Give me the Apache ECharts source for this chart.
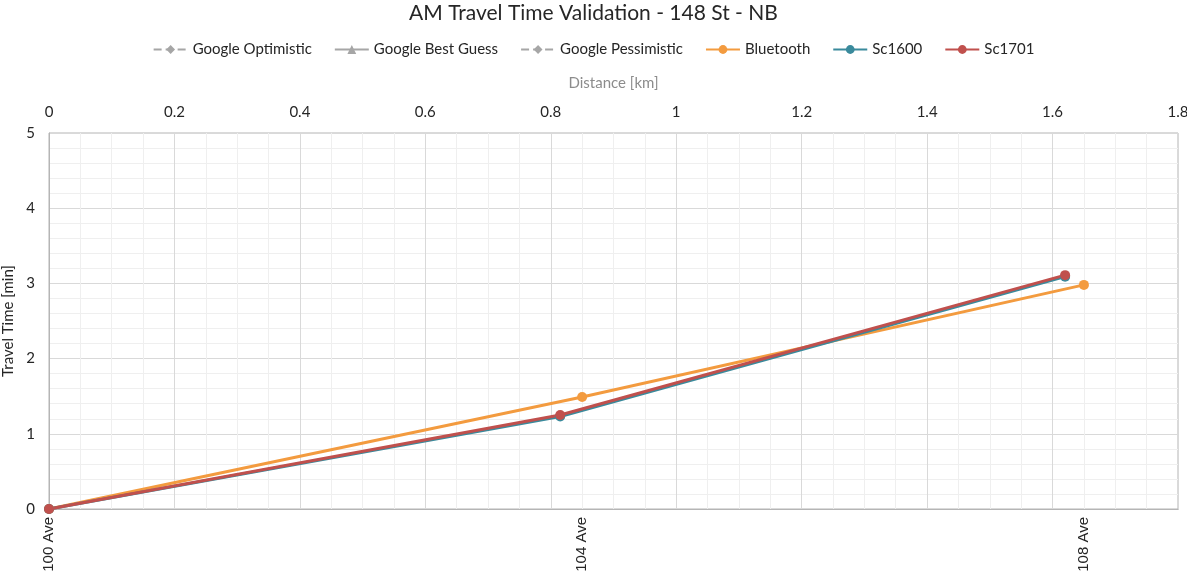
<!DOCTYPE html>
<html>
<head>
<meta charset="utf-8">
<script src="https://cdn.jsdelivr.net/npm/echarts@6/dist/echarts.min.js"></script>
<style>
html,body{margin:0;padding:0;background:#fff;}
#chart{width:1187px;height:580px;}
</style>
</head>
<body>
<div id="chart"></div>
<script>
// ---- data ----
var streetNames = ['100 Ave', '104 Ave', '108 Ave'];
var streetDist = [0, 0.85, 1.65];

var bluetoothDist = [0, 0.85, 1.65];
var bluetoothTime = [0, 1.49, 2.98];

var scDist = [0, 0.815, 1.62];
var sc1600Time = [0, 1.23, 3.09];
var sc1701Time = [0, 1.25, 3.11];

var googleOptimistic = [];
var googleBestGuess = [];
var googlePessimistic = [];

var xTicks = [0, 0.2, 0.4, 0.6, 0.8, 1, 1.2, 1.4, 1.6, 1.8];
var yTicks = [0, 1, 2, 3, 4, 5];

function pairs(xs, ys) {
  return ys.map(function (y, i) { return [xs[i], y]; });
}

var font = 'Lato, "Open Sans", sans-serif';
var chart = echarts.init(document.getElementById('chart'));
chart.setOption({
  animation: false,
  backgroundColor: '#fff',
  title: {
    text: 'AM Travel Time Validation - 148 St - NB',
    left: 'center', top: -2,
    textStyle: { fontFamily: font, fontSize: 21, fontWeight: 'normal', color: '#262626' }
  },
  legend: {
    top: 37, left: 'center',
    itemWidth: 34, itemHeight: 11, itemGap: 22,
    textStyle: { fontFamily: font, fontSize: 15, color: '#262626' },
    data: ['Google Optimistic', 'Google Best Guess', 'Google Pessimistic', 'Bluetooth', 'Sc1600', 'Sc1701']
  },
  grid: {
    left: 49, right: 9, top: 133, bottom: 71,
    outerBoundsMode: 'none',
    containLabel: false,
    show: true, borderColor: '#b5b5b5', borderWidth: 1
  },
  xAxis: [
    {
      type: 'value', position: 'top', min: xTicks[0], max: xTicks[xTicks.length - 1], interval: 0.2,
      name: 'Distance [km]', nameLocation: 'middle', nameGap: 42,
      nameTextStyle: { fontFamily: font, fontSize: 15, color: '#8c8c8c' },
      axisLine: { show: true, lineStyle: { color: '#b5b5b5' } },
      axisTick: { show: false },
      axisLabel: { fontFamily: font, fontSize: 15, color: '#262626', margin: 13 },
      splitLine: { show: true, lineStyle: { color: '#d9d9d9' } },
      minorTick: { show: false, splitNumber: 4 },
      minorSplitLine: { show: true, lineStyle: { color: '#efefef' } }
    },
    {
      type: 'value', position: 'bottom', min: xTicks[0], max: xTicks[xTicks.length - 1],
      axisLine: { show: true, lineStyle: { color: '#b5b5b5' } },
      axisTick: { show: false },
      splitLine: { show: false },
      axisLabel: {
        customValues: streetDist,
        rotate: 90,
        fontFamily: '"Liberation Sans", Arial, sans-serif', fontSize: 15, color: '#262626',
        margin: 8,
        formatter: function (v) {
          for (var i = 0; i < streetDist.length; i++) {
            if (Math.abs(streetDist[i] - v) < 1e-6) return streetNames[i];
          }
          return '';
        }
      }
    }
  ],
  yAxis: {
    type: 'value', min: yTicks[0], max: yTicks[yTicks.length - 1], interval: 1,
    name: 'Travel Time [min]', nameLocation: 'middle', nameGap: 26,
    nameTextStyle: { fontFamily: font, fontSize: 15, color: '#262626' },
    axisLine: { show: true, lineStyle: { color: '#b5b5b5' } },
    axisTick: { show: false },
    axisLabel: { fontFamily: font, fontSize: 15, color: '#262626', margin: 14 },
    splitLine: { show: true, lineStyle: { color: '#d9d9d9' } },
    minorTick: { show: false, splitNumber: 5 },
    minorSplitLine: { show: true, lineStyle: { color: '#efefef' } }
  },
  series: [
    { name: 'Google Optimistic', type: 'line', xAxisIndex: 0, data: pairs([], googleOptimistic),
      color: '#a6a6a6', symbol: 'diamond', symbolSize: 9, lineStyle: { type: 'dashed', width: 1.5 } },
    { name: 'Google Best Guess', type: 'line', xAxisIndex: 0, data: pairs([], googleBestGuess),
      color: '#a6a6a6', symbol: 'triangle', symbolSize: 12, lineStyle: { width: 3 } },
    { name: 'Google Pessimistic', type: 'line', xAxisIndex: 0, data: pairs([], googlePessimistic),
      color: '#a6a6a6', symbol: 'diamond', symbolSize: 9, lineStyle: { type: 'dashed', width: 1.5 } },
    { name: 'Bluetooth', type: 'line', xAxisIndex: 0, data: pairs(bluetoothDist, bluetoothTime),
      color: '#f39b3f', symbol: 'circle', symbolSize: 10, lineStyle: { width: 3 } },
    { name: 'Sc1600', type: 'line', xAxisIndex: 0, data: pairs(scDist, sc1600Time),
      color: '#3a8a9c', symbol: 'circle', symbolSize: 10, lineStyle: { width: 3 } },
    { name: 'Sc1701', type: 'line', xAxisIndex: 0, data: pairs(scDist, sc1701Time),
      color: '#c0504d', symbol: 'circle', symbolSize: 10, lineStyle: { width: 3 } }
  ]
});
</script>
</body>
</html>
